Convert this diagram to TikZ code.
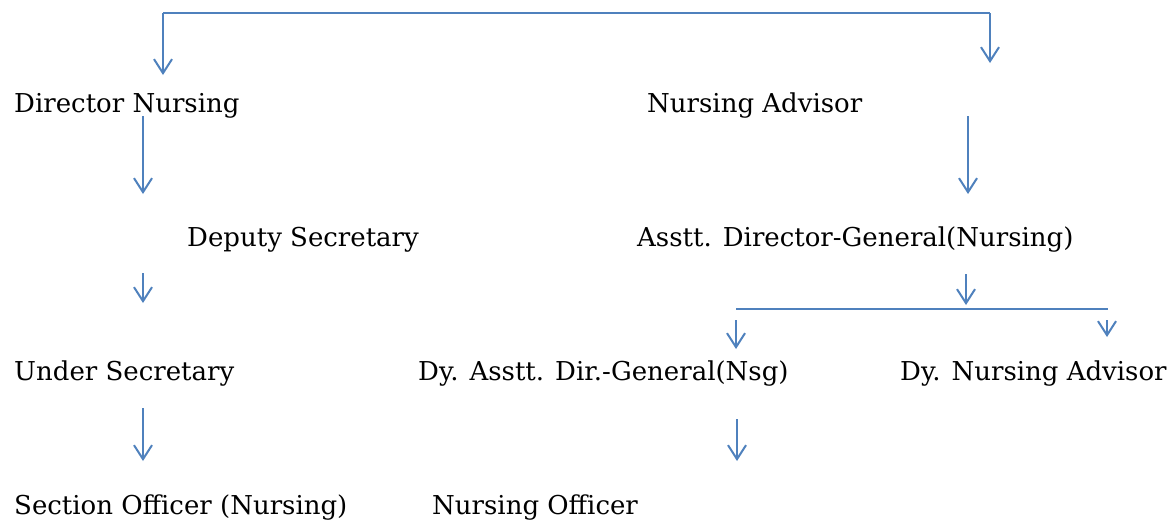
\documentclass[tikz,border=0pt]{standalone}
\usepackage{fontspec}
\setmainfont{DejaVu Serif}
\usetikzlibrary{arrows.meta}
\definecolor{lineblue}{RGB}{79,129,189}

\begin{document}
\begin{tikzpicture}[x=1pt,y=-1pt,
        lbl/.style={anchor=base west, inner sep=0pt, font=\fontsize{26}{30}\selectfont},
        bar/.style={lineblue, line width=2pt},
        arr/.style={bar, -{Straight Barb[length=14pt,width=18pt]}}]
        \useasboundingbox (0,0) rectangle (1174,523);

        % Posts
        \node[lbl] (dirn)  at (14,112)  {Director Nursing};
        \node[lbl] (nadv)  at (647,112) {Nursing Advisor};
        \node[lbl] (dsec)  at (187,246) {Deputy Secretary};
        \node[lbl] (adg)   at (637,246) {Asstt. Director-General(Nursing)};
        \node[lbl] (usec)  at (14,380)  {Under Secretary};
        \node[lbl] (dyadg) at (418,380) {Dy. Asstt. Dir.-General(Nsg)};
        \node[lbl] (dyadv) at (900,380) {Dy. Nursing Advisor};
        \node[lbl] (so)    at (14,514)  {Section Officer (Nursing)};
        \node[lbl] (no)    at (432,514) {Nursing Officer};

        % Top bar
        \coordinate (topl) at (163,13);
        \coordinate (topr) at (990,13);
        \coordinate (topla) at (163,75);
        \coordinate (topra) at (990,63);
        \draw[bar] (topl) -- (topr);
        \draw[arr] (topl) -- (topla);
        \draw[arr] (topr) -- (topra);

        % Left column
        \coordinate (l1s) at (143,116);
        \coordinate (l1e) at (143,194);
        \coordinate (l2s) at (143,273);
        \coordinate (l2e) at (143,303);
        \coordinate (l3s) at (143,408);
        \coordinate (l3e) at (143,461);
        \draw[arr] (l1s) -- (l1e);
        \draw[arr] (l2s) -- (l2e);
        \draw[arr] (l3s) -- (l3e);

        % Right column
        \coordinate (r1s) at (968,116);
        \coordinate (r1e) at (968,194);
        \coordinate (r2s) at (966,274);
        \coordinate (r2e) at (966,305);
        \draw[arr] (r1s) -- (r1e);
        \draw[arr] (r2s) -- (r2e);

        % Lower bar
        \coordinate (lowl) at (736,309);
        \coordinate (lowr) at (1108,309);
        \coordinate (lowls) at (736,320);
        \coordinate (lowla) at (736,349);
        \coordinate (lowrs) at (1107,320);
        \coordinate (lowra) at (1107,337);
        \draw[bar] (lowl) -- (lowr);
        \draw[arr] (lowls) -- (lowla);
        \draw[arr] (lowrs) -- (lowra);

        \coordinate (d1s) at (737,419);
        \coordinate (d1e) at (737,461);
        \draw[arr] (d1s) -- (d1e);
\end{tikzpicture}
\end{document}
